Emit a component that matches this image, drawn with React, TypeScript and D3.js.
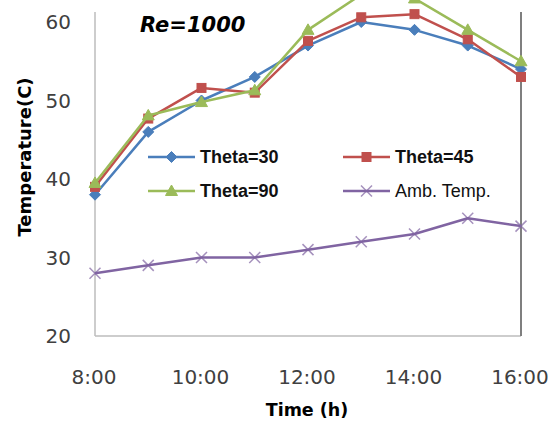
import React from "react";
import * as d3 from "d3";

const hours = [8, 9, 10, 11, 12, 13, 14, 15, 16];
const theta30 = [38, 46, 50, 53, 57, 60, 59, 57, 54];
const theta45 = [39, 47.7, 51.6, 51, 57.6, 60.6, 61, 57.8, 53];
const theta90 = [39.5, 48.1, 49.8, 51.3, 59, 63.5, 63, 59, 55];
const ambTemp = [28, 29, 30, 30, 31, 32, 33, 35, 34];
const xTicks = [8, 10, 12, 14, 16];
const yTicks = [20, 30, 40, 50, 60];

const W = 558;
const H = 423;

const series = [
  { name: "Theta=30", values: theta30, color: "#4A7EBB", marker: "diamond" },
  { name: "Theta=45", values: theta45, color: "#C0504D", marker: "square" },
  { name: "Theta=90", values: theta90, color: "#9BBB59", marker: "triangle" },
  { name: "Amb. Temp.", values: ambTemp, color: "#8064A2", marker: "x" },
];

function Marker({ type, x, y, color }: { type: string; x: number; y: number; color: string }) {
  if (type === "diamond") {
    const s = 5.5;
    return <path d={`M${x},${y - s}L${x + s},${y}L${x},${y + s}L${x - s},${y}Z`} fill={color} stroke={color} strokeWidth={1} />;
  }
  if (type === "square") {
    const s = 4.5;
    return <rect x={x - s} y={y - s} width={2 * s} height={2 * s} fill={color} stroke={color} strokeWidth={1} />;
  }
  if (type === "triangle") {
    const s = 6;
    return <path d={`M${x},${y - s}L${x + s},${y + s * 0.75}L${x - s},${y + s * 0.75}Z`} fill={color} stroke={color} strokeWidth={1} />;
  }
  const s = 5.5;
  return (
    <path
      d={`M${x - s},${y - s}L${x + s},${y + s}M${x - s},${y + s}L${x + s},${y - s}`}
      stroke={color}
      strokeWidth={1.5}
      opacity={0.7}
    />
  );
}

export default function App() {
  const left = 95;
  const right = 521;
  const bottom = 336;
  const top = 22;
  const x = d3.scaleLinear().domain([8, 16]).range([left, right]);
  const y = d3.scaleLinear().domain([20, 60]).range([bottom, top]);
  const line = d3
    .line<number>()
    .x((_, i) => x(hours[i]))
    .y((v) => y(v));

  const legendRows = [157, 191];
  const legendCols = [148, 343];

  return (
    <svg
      width={W}
      height={H}
      style={{ position: "absolute", left: 0, top: 0, background: "#fff" }}
    >
      <rect x={0} y={0} width={W} height={H} fill="#fff" />
      {/* axes */}
      <line x1={left} x2={left} y1={12} y2={bottom} stroke="#BDBDBD" strokeWidth={1.5} />
      <line x1={left} x2={right} y1={bottom} y2={bottom} stroke="#BDBDBD" strokeWidth={1.5} />
      <line x1={right} x2={right} y1={12} y2={bottom} stroke="#7F7F7F" strokeWidth={2} />

      {yTicks.map((t) => (
        <text
          key={t}
          x={71}
          y={y(t)}
          textAnchor="end"
          dominantBaseline="central"
          fontFamily="DejaVu Sans"
          fontSize={20}
          fill="#404040"
        >
          {t}
        </text>
      ))}
      {xTicks.map((t) => (
        <text
          key={t}
          x={x(t) - 1}
          y={377}
          textAnchor="middle"
          dominantBaseline="central"
          fontFamily="DejaVu Sans"
          fontSize={20}
          fill="#404040"
        >
          {`${t}:00`}
        </text>
      ))}

      <text
        x={307}
        y={410}
        textAnchor="middle"
        dominantBaseline="central"
        fontFamily="DejaVu Sans"
        fontWeight="bold"
        fontSize={17.5}
        fill="#000"
      >
        Time (h)
      </text>
      <text
        transform={`translate(24,157) rotate(-90)`}
        textAnchor="middle"
        dominantBaseline="central"
        fontFamily="DejaVu Sans"
        fontWeight="bold"
        fontSize={18}
        fill="#000"
      >
        Temperature(C)
      </text>

      <text
        x={140}
        y={32}
        fontFamily="DejaVu Sans"
        fontWeight="bold"
        fontStyle="italic"
        fontSize={21}
        fill="#000"
      >
        Re=1000
      </text>

      {/* series */}
      {series.map((s) => (
        <g key={s.name}>
          <path d={line(s.values) || ""} fill="none" stroke={s.color} strokeWidth={2.5} strokeLinejoin="round" />
          {s.values.map((v, i) => (
            <Marker key={i} type={s.marker} x={x(hours[i])} y={y(v)} color={s.color} />
          ))}
        </g>
      ))}

      {/* legend */}
      {series.map((s, i) => {
        const lx = legendCols[i % 2];
        const ly = legendRows[Math.floor(i / 2)];
        return (
          <g key={s.name}>
            <line x1={lx} x2={lx + 47} y1={ly} y2={ly} stroke={s.color} strokeWidth={2.5} />
            <Marker type={s.marker} x={lx + 23.5} y={ly} color={s.color} />
            <text
              x={lx + 52}
              y={ly}
              dominantBaseline="central"
              fontFamily="Liberation Sans"
              fontWeight={s.name === "Amb. Temp." ? "normal" : "bold"}
              fontSize={18}
              fill="#111"
            >
              {s.name}
            </text>
          </g>
        );
      })}
    </svg>
  );
}
